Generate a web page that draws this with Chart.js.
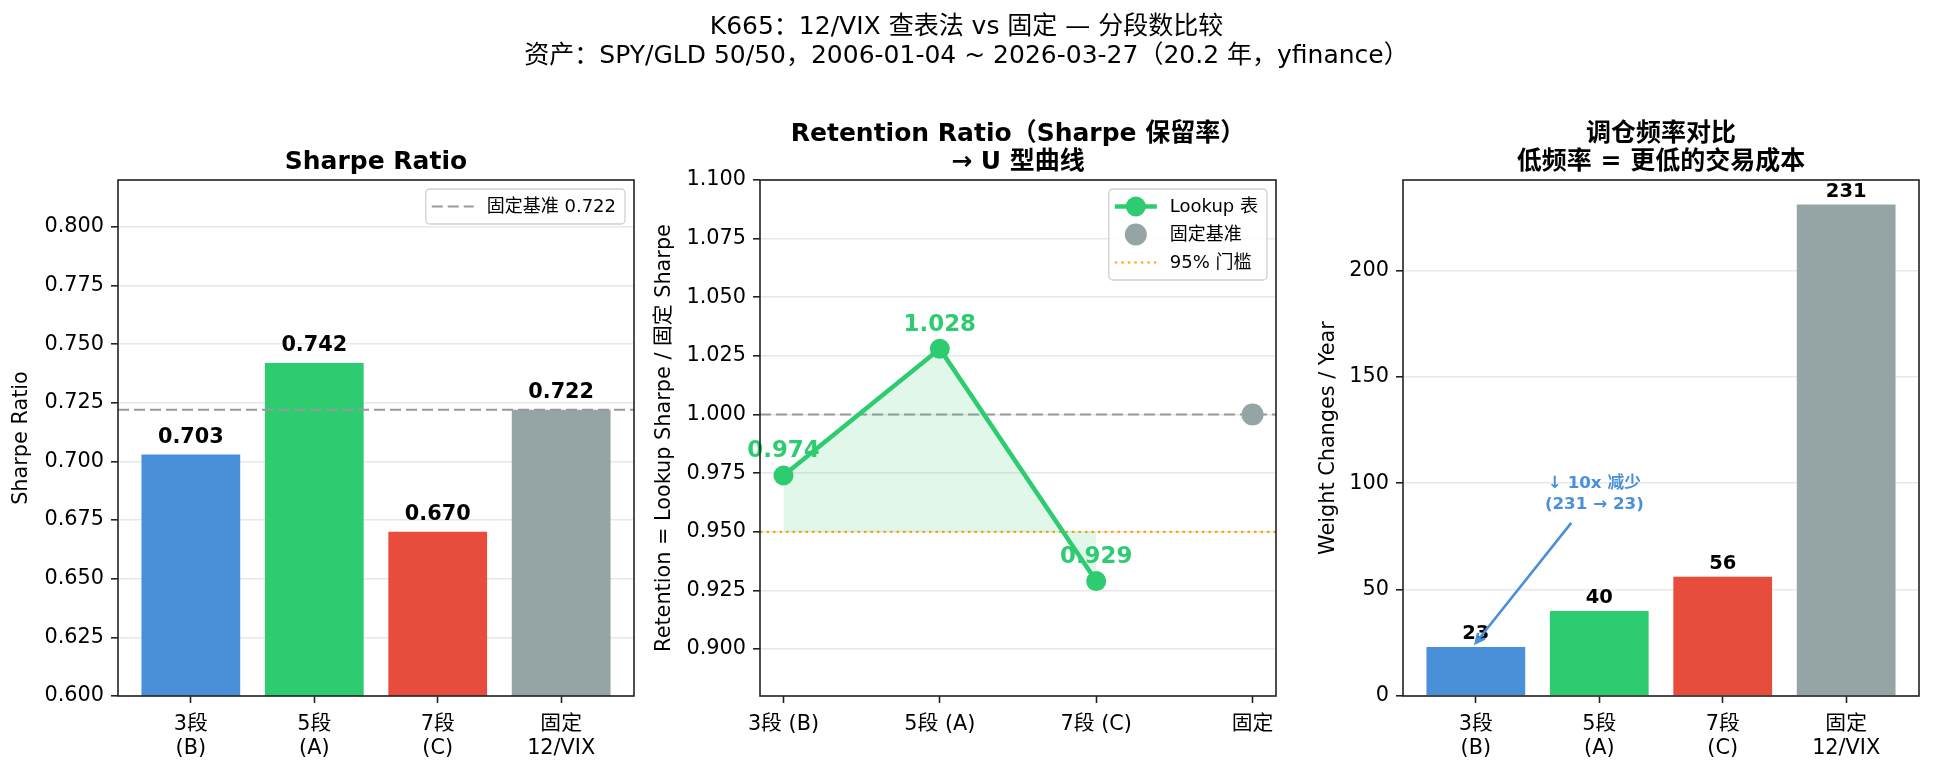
<!DOCTYPE html>
<html>
<head>
<meta charset="utf-8">
<script src="https://cdn.jsdelivr.net/npm/chart.js@4.4.1/dist/chart.umd.min.js"></script>
<style>
  html, body { margin: 0; padding: 0; background: #fff; }
  #fig { position: relative; width: 1933px; height: 770px; overflow: hidden; }
  #fig canvas { position: absolute; left: 0; top: 0; }
</style>
</head>
<body>
<div id="fig">
  <canvas id="c1" width="1933" height="770"></canvas>
  <canvas id="c2" width="1933" height="770"></canvas>
  <canvas id="c3" width="1933" height="770"></canvas>
</div>
<script>
// ---- data ----
const supTitle = ['K665：12/VIX 查表法 vs 固定 — 分段数比较',
                  '资产：SPY/GLD 50/50，2006-01-04 ~ 2026-03-27（20.2 年，yfinance）'];

const barCats = [['3段', '(B)'], ['5段', '(A)'], ['7段', '(C)'], ['固定', '12/VIX']];
const barColors = ['#4a90d9', '#2ecc71', '#e74c3c', '#95a5a6'];

const sharpeValues = [0.703, 0.742, 0.670, 0.722];
const sharpeBase = 0.722;
const sharpeTicks = [0.600, 0.625, 0.650, 0.675, 0.700, 0.725, 0.750, 0.775, 0.800];

const retCats = ['3段 (B)', '5段 (A)', '7段 (C)', '固定'];
const retValues = [0.974, 1.028, 0.929];
const retFixed = 1.000;
const retFloor = 0.95;
const retTicks = [0.900, 0.925, 0.950, 0.975, 1.000, 1.025, 1.050, 1.075, 1.100];

const changeValues = [23, 40, 56, 231];
const changeTicks = [0, 50, 100, 150, 200];
const noteLines = ['↓ 10x 减少', '(231 → 23)'];
const noteAt = [0.96, 95];
const noteTip = [0, 25];

// ---- common ----
const FONT = '"DejaVu Sans", "Noto Sans CJK SC", sans-serif';
Chart.defaults.font.family = FONT;
Chart.defaults.color = '#000';

const boxes = [
  { left: 118, right: 634, top: 180, bottom: 696, ylabX: 22 },
  { left: 760, right: 1276, top: 180, bottom: 696, ylabX: 665 },
  { left: 1403, right: 1919, top: 180, bottom: 696, ylabX: 1329 }
];

function baseOptions(box, xr, yr, yTicks, yFmt, xLabels) {
  return {
    responsive: false,
    animation: false,
    events: [],
    layout: { padding: { left: 0, right: 1933 - box.right, top: box.top, bottom: 770 - box.bottom - 70 } },
    plugins: { legend: { display: false }, tooltip: { enabled: false } },
    scales: {
      x: {
        type: 'linear', min: xr[0], max: xr[1], offset: false,
        afterBuildTicks: s => { s.ticks = xLabels.map((_, i) => ({ value: i })); },
        afterFit: s => { s.height = 70; },
        grid: { offset: false, drawOnChartArea: false, drawTicks: true, tickLength: 7, tickColor: '#222', tickWidth: 1.6 },
        border: { display: false },
        ticks: { callback: (v, i) => xLabels[i], font: { size: 20.8, lineHeight: 1.15 }, padding: 10,
                 maxRotation: 0, autoSkip: false, color: '#000' }
      },
      y: {
        type: 'linear', min: yr[0], max: yr[1],
        afterBuildTicks: s => { s.ticks = yTicks.map(v => ({ value: v })); },
        afterFit: s => { s.width = box.left; },
        grid: { color: '#e8e8e8', lineWidth: 1.6, drawTicks: true, tickLength: 7, tickColor: '#222', tickWidth: 1.6 },
        border: { display: false },
        ticks: { callback: yFmt, font: { size: 20.8 }, padding: 7, color: '#000' }
      }
    }
  };
}

function drawFrame(chart) {
  const a = chart.chartArea, ctx = chart.ctx;
  ctx.save();
  ctx.strokeStyle = '#222';
  ctx.lineWidth = 1.6;
  ctx.strokeRect(a.left, a.top, a.right - a.left, a.bottom - a.top);
  ctx.restore();
}

function drawTitle(chart, lines, ylabel, box) {
  const a = chart.chartArea, ctx = chart.ctx;
  ctx.save();
  ctx.fillStyle = '#000';
  ctx.textAlign = 'center';
  ctx.textBaseline = 'middle';
  ctx.font = 'bold 25px ' + FONT;
  const cx = (a.left + a.right) / 2;
  lines.forEach((t, i) => ctx.fillText(t, cx, 162.5 - (lines.length - 1 - i) * 28));
  ctx.font = '20.8px ' + FONT;
  ctx.translate(box.ylabX, (a.top + a.bottom) / 2);
  ctx.rotate(-Math.PI / 2);
  ctx.fillText(ylabel, 0, 0);
  ctx.restore();
}

function hline(chart, value, color, width, dash) {
  const a = chart.chartArea, ctx = chart.ctx;
  const y = chart.scales.y.getPixelForValue(value);
  ctx.save();
  ctx.strokeStyle = color;
  ctx.lineWidth = width;
  ctx.setLineDash(dash);
  ctx.beginPath();
  ctx.moveTo(a.left, y);
  ctx.lineTo(a.right, y);
  ctx.stroke();
  ctx.restore();
}

function drawLegend(chart, items) {
  const a = chart.chartArea, ctx = chart.ctx;
  ctx.save();
  ctx.font = '18px ' + FONT;
  const textW = Math.max(...items.map(it => ctx.measureText(it.text).width));
  const padL = 6, handleW = 42, gap = 13, padR = 9, rowH = 28, padY = 3.5;
  const w = padL + handleW + gap + textW + padR;
  const h = padY * 2 + rowH * items.length;
  const x0 = a.right - 9 - w, y0 = a.top + 9;
  ctx.beginPath();
  ctx.roundRect(x0, y0, w, h, 4);
  ctx.fillStyle = 'rgba(255,255,255,0.85)';
  ctx.fill();
  ctx.strokeStyle = '#d0d0d0';
  ctx.lineWidth = 1.3;
  ctx.stroke();
  items.forEach((it, i) => {
    const cy = y0 + padY + rowH * i + rowH / 2;
    const hx = x0 + padL;
    if (it.line) {
      ctx.save();
      ctx.strokeStyle = it.line.color;
      ctx.lineWidth = it.line.width;
      ctx.setLineDash(it.line.dash || []);
      ctx.beginPath();
      ctx.moveTo(hx, cy);
      ctx.lineTo(hx + handleW, cy);
      ctx.stroke();
      ctx.restore();
    }
    if (it.dot) {
      ctx.beginPath();
      ctx.arc(hx + handleW / 2, cy, it.dot.r, 0, Math.PI * 2);
      ctx.fillStyle = it.dot.color;
      ctx.fill();
    }
    ctx.fillStyle = '#000';
    ctx.textAlign = 'left';
    ctx.textBaseline = 'middle';
    ctx.fillText(it.text, hx + handleW + gap, cy + 1);
  });
  ctx.restore();
}

function barLabels(chart, texts, size, lift) {
  const ctx = chart.ctx;
  const meta = chart.getDatasetMeta(0);
  ctx.save();
  ctx.font = 'bold ' + size + 'px ' + FONT;
  ctx.fillStyle = '#000';
  ctx.textAlign = 'center';
  ctx.textBaseline = 'middle';
  meta.data.forEach((el, i) => ctx.fillText(texts[i], el.x, el.y - lift));
  ctx.restore();
}

// ---- chart 1 : Sharpe Ratio ----
new Chart(document.getElementById('c1'), {
  type: 'bar',
  data: {
    datasets: [{
      data: sharpeValues.map((v, i) => ({ x: i, y: v })),
      backgroundColor: barColors,
      borderWidth: 0,
      categoryPercentage: 1,
      barPercentage: 0.8
    }]
  },
  options: baseOptions(boxes[0], [-0.59, 3.59], [0.6, 0.82], sharpeTicks, v => v.toFixed(3), barCats),
  plugins: [{
    id: 'deco1',
    afterDatasetsDraw(chart) {
      hline(chart, sharpeBase, '#999999', 2, [11, 5]);
      barLabels(chart, sharpeValues.map(v => v.toFixed(3)), 20.8, 17);
    },
    afterDraw(chart) {
      drawFrame(chart);
      drawLegend(chart, [{ text: '固定基准 ' + sharpeBase.toFixed(3), line: { color: '#999999', width: 2, dash: [11, 5] } }]);
      drawTitle(chart, ['Sharpe Ratio'], 'Sharpe Ratio', boxes[0]);
      const ctx = chart.ctx;
      ctx.save();
      ctx.fillStyle = '#000';
      ctx.textAlign = 'center';
      ctx.textBaseline = 'middle';
      ctx.font = '25px ' + FONT;
      ctx.fillText(supTitle[0], 966.5, 27.5);
      ctx.fillText(supTitle[1], 966.5, 56.5);
      ctx.restore();
    }
  }]
});

// ---- chart 2 : Retention ----
new Chart(document.getElementById('c2'), {
  type: 'line',
  data: {
    datasets: [{
      data: retValues.map((v, i) => ({ x: i, y: v })),
      borderColor: '#2ecc71',
      borderWidth: 4.5,
      pointRadius: 10,
      pointBorderWidth: 0,
      pointBackgroundColor: '#2ecc71',
      fill: { value: retFloor },
      backgroundColor: 'rgba(46,204,113,0.15)',
      tension: 0
    }, {
      data: [{ x: retCats.length - 1, y: retFixed }],
      showLine: false,
      pointRadius: 11,
      pointBorderWidth: 0,
      pointBackgroundColor: '#95a5a6'
    }]
  },
  options: baseOptions(boxes[1], [-0.15, 3.15], [0.88, 1.10], retTicks, v => v.toFixed(3), retCats),
  plugins: [{
    id: 'deco2',
    beforeDatasetsDraw(chart) {
      hline(chart, retFixed, '#999999', 2, [11, 5]);
      hline(chart, retFloor, '#FFA500', 2.2, [2.5, 4]);
    },
    afterDatasetsDraw(chart) {
      const ctx = chart.ctx;
      const meta = chart.getDatasetMeta(0);
      ctx.save();
      ctx.font = 'bold 22.9px ' + FONT;
      ctx.fillStyle = '#2ecc71';
      ctx.textAlign = 'center';
      ctx.textBaseline = 'middle';
      meta.data.forEach((el, i) => ctx.fillText(retValues[i].toFixed(3), el.x, el.y - 24));
      ctx.restore();
    },
    afterDraw(chart) {
      drawFrame(chart);
      drawLegend(chart, [
        { text: 'Lookup 表', line: { color: '#2ecc71', width: 4.5 }, dot: { color: '#2ecc71', r: 10 } },
        { text: '固定基准', dot: { color: '#95a5a6', r: 11 } },
        { text: '95% 门槛', line: { color: '#FFA500', width: 2.2, dash: [2.5, 4] } }
      ]);
      drawTitle(chart, ['Retention Ratio（Sharpe 保留率）', '→ U 型曲线'],
                'Retention = Lookup Sharpe / 固定 Sharpe', boxes[1]);
    }
  }]
});

// ---- chart 3 : weight changes ----
new Chart(document.getElementById('c3'), {
  type: 'bar',
  data: {
    datasets: [{
      data: changeValues.map((v, i) => ({ x: i, y: v })),
      backgroundColor: barColors,
      borderWidth: 0,
      categoryPercentage: 1,
      barPercentage: 0.8
    }]
  },
  options: baseOptions(boxes[2], [-0.59, 3.59], [0, 242.55], changeTicks, v => String(v), barCats),
  plugins: [{
    id: 'deco3',
    afterDatasetsDraw(chart) {
      barLabels(chart, changeValues.map(v => String(v)), 19.5, 13);
      const ctx = chart.ctx, xs = chart.scales.x, ys = chart.scales.y;
      const tx = xs.getPixelForValue(noteAt[0]), ty = ys.getPixelForValue(noteAt[1]);
      const px = xs.getPixelForValue(noteTip[0]), py = ys.getPixelForValue(noteTip[1]);
      // arrow from text box edge to tip
      const dx = px - tx, dy = py - ty;
      const t = Math.min(62 / Math.abs(dx), 29 / Math.abs(dy));
      const sx = tx + dx * t, sy = ty + dy * t;
      ctx.save();
      ctx.strokeStyle = '#4a90d9';
      ctx.lineWidth = 2.6;
      ctx.beginPath();
      ctx.moveTo(sx, sy);
      ctx.lineTo(px, py);
      const ang = Math.atan2(py - sy, px - sx);
      const hl = 10;
      ctx.moveTo(px - hl * Math.cos(ang - 0.45), py - hl * Math.sin(ang - 0.45));
      ctx.lineTo(px, py);
      ctx.lineTo(px - hl * Math.cos(ang + 0.45), py - hl * Math.sin(ang + 0.45));
      ctx.stroke();
      ctx.fillStyle = '#4a90d9';
      ctx.font = 'bold 16.7px ' + FONT;
      ctx.textAlign = 'center';
      ctx.textBaseline = 'middle';
      ctx.fillText(noteLines[0], tx, ty - 10.5);
      ctx.fillText(noteLines[1], tx, ty + 10.5);
      ctx.restore();
    },
    afterDraw(chart) {
      drawFrame(chart);
      drawTitle(chart, ['调仓频率对比', '低频率 = 更低的交易成本'], 'Weight Changes / Year', boxes[2]);
    }
  }]
});
</script>
</body>
</html>
